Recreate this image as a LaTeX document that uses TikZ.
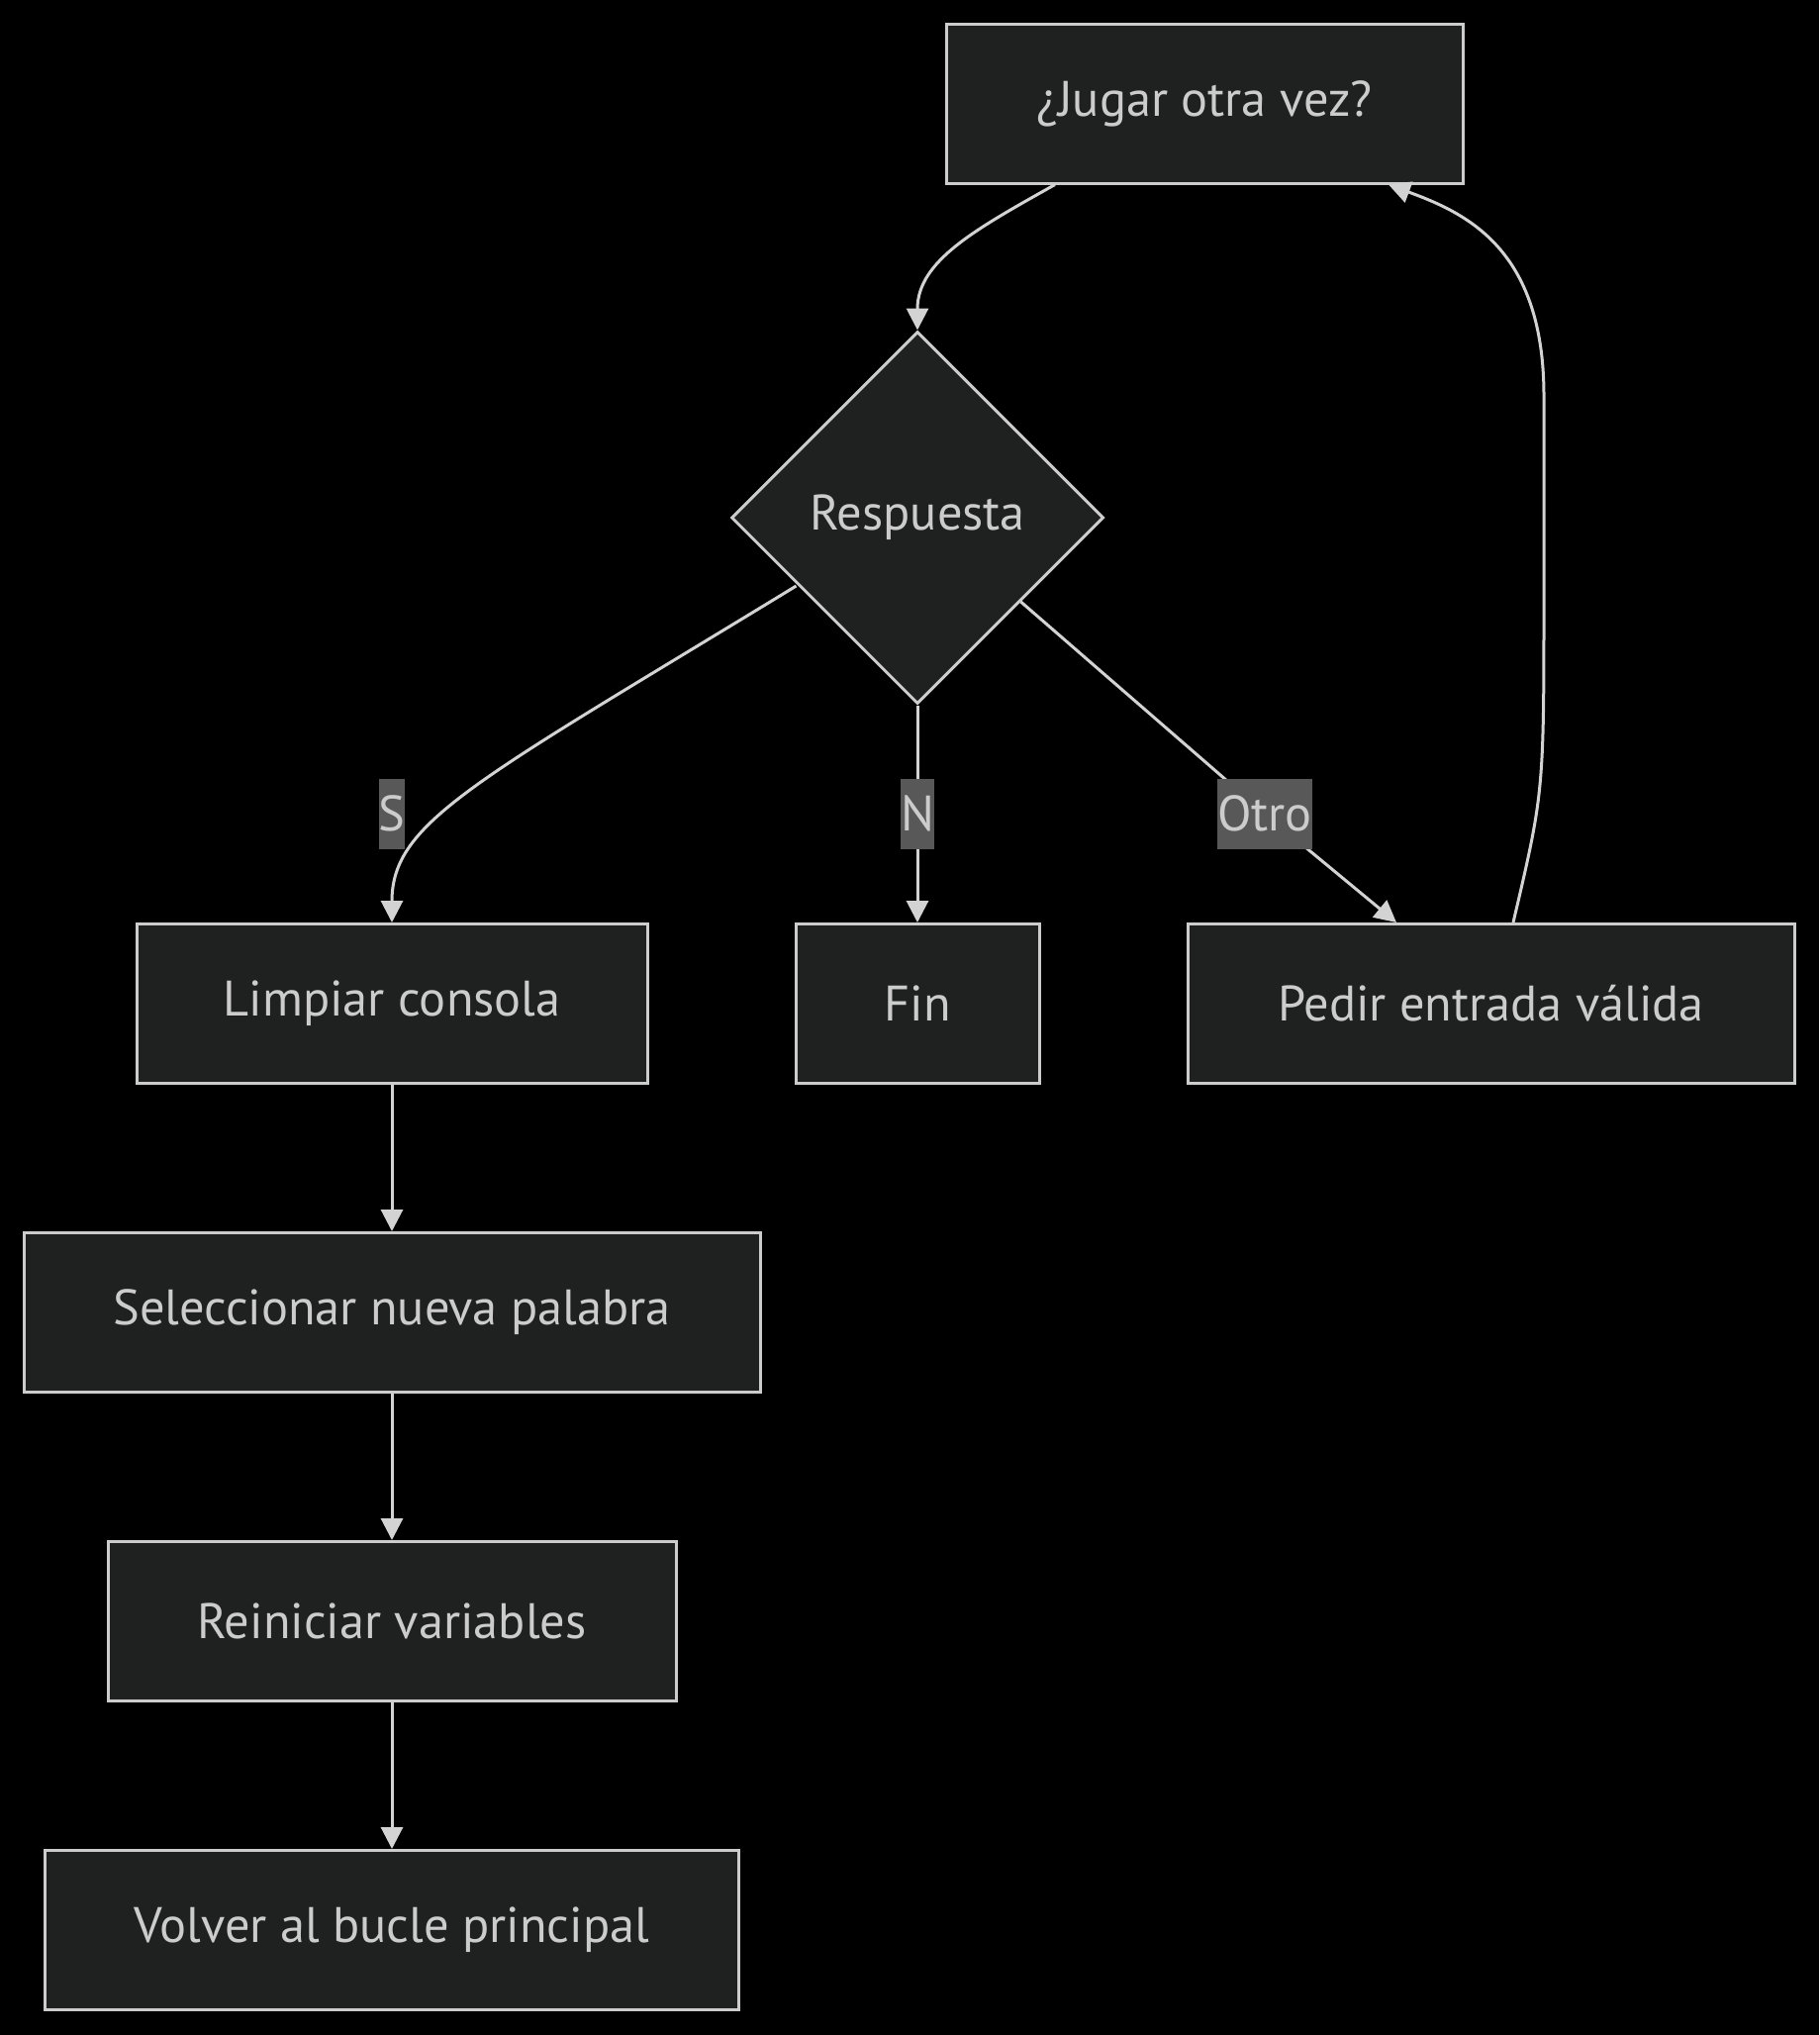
\documentclass[tikz,border=0pt]{standalone}
\usepackage{fontspec}
\setmainfont{PT Sans}
\usetikzlibrary{shapes.geometric,arrows.meta}
\definecolor{nodefill}{HTML}{1F2020}
\definecolor{nodeline}{HTML}{CCCCCC}
\definecolor{edgeline}{HTML}{D3D3D3}
\definecolor{lblfill}{HTML}{585858}
\definecolor{txtgrey}{HTML}{CCCCCC}
\tikzset{
  box/.style={draw=nodeline, line width=1.5pt, fill=nodefill, text=txtgrey,
    minimum height=80.5pt, inner sep=0pt, font=\fontsize{25.2}{29}\selectfont},
  decision/.style={box, diamond, aspect=1, minimum width=188pt, minimum height=188pt},
  flow/.style={draw=edgeline, line width=1.5pt, -{Triangle[length=11pt,width=11pt]}},
  edgelbl/.style={fill=lblfill, text=txtgrey, inner xsep=0pt, inner ysep=0pt,
    minimum height=35.5pt, font=\fontsize{25.2}{29}\selectfont}
}
\begin{document}
\begin{tikzpicture}[x=0.5pt,y=-0.5pt]
	\fill[black] (0,0) rectangle (1838,2056);
	\useasboundingbox (0,0) rectangle (1838,2056);
	\node[box, minimum width=261pt] (jugar) at (1217,104.5) {¿Jugar otra vez?};
	\node[decision] (resp) at (927,523) {Respuesta};
	\node[box, minimum width=258pt] (limpiar) at (396,1014) {Limpiar consola};
	\node[box, minimum width=123pt] (fin) at (927,1014) {Fin};
	\node[box, minimum width=306.5pt] (pedir) at (1506.5,1014) {Pedir entrada válida};
	\node[box, minimum width=372pt] (selec) at (396,1326) {Seleccionar nueva palabra};
	\node[box, minimum width=287pt] (reini) at (396,1638) {Reiniciar variables};
	\node[box, minimum width=350.5pt] (volver) at (396,1950) {Volver al bucle principal};
	\coordinate (lblS) at (396,822);
	\coordinate (lblN) at (927,822);
	\coordinate (lblO) at (1278,822);
	\draw[flow] ([xshift=-75.5pt]jugar.south) .. controls +(-80,45) and +(0,-70) .. (resp.north);
	\draw[flow] ([shift={(67,69)}]resp.west) .. controls (480,790) and (396,830) .. (limpiar.north);
	\draw[flow] (resp.south) -- (fin.north);
	\draw[flow] ([shift={(-85,85)}]resp.east) -- (lblO) -- ([xshift=-47.75pt]pedir.north);
	\draw[flow] ([xshift=11.25pt]pedir.north) .. controls (1560,800) .. (1560,600) -- (1560,400)
		.. controls (1560,250) and (1480,215) .. ([xshift=93pt]jugar.south);
	\draw[flow] (limpiar) -- (selec);
	\draw[flow] (selec) -- (reini);
	\draw[flow] (reini) -- (volver);
	\node[edgelbl] (labS) at (lblS) {S};
	\node[edgelbl] (labN) at (lblN) {N};
	\node[edgelbl] (labO) at (lblO) {Otro};
\end{tikzpicture}
\end{document}
